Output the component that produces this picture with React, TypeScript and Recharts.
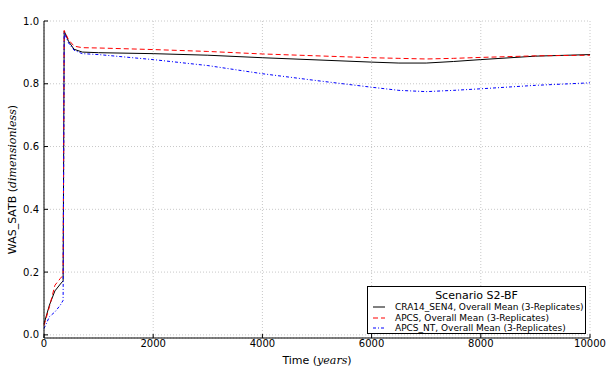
import { LineChart, Line, XAxis, YAxis, CartesianGrid, Legend } from "recharts";

const years = [0, 100, 200, 300, 350, 370, 450, 550, 700, 1000, 2000, 3000, 4000, 5000, 6000, 6500, 7000, 7500, 8000, 9000, 10000];
const cra14Sen4 = [0.035, 0.095, 0.14, 0.162, 0.172, 0.968, 0.935, 0.91, 0.901, 0.899, 0.896, 0.891, 0.883, 0.876, 0.869, 0.866, 0.866, 0.871, 0.877, 0.888, 0.893];
const apcs = [0.03, 0.09, 0.158, 0.18, 0.19, 0.97, 0.94, 0.92, 0.915, 0.914, 0.909, 0.903, 0.895, 0.889, 0.883, 0.881, 0.879, 0.881, 0.884, 0.889, 0.891];
const apcsNt = [0.02, 0.058, 0.073, 0.095, 0.11, 0.962, 0.93, 0.907, 0.896, 0.893, 0.877, 0.858, 0.832, 0.81, 0.789, 0.779, 0.775, 0.779, 0.784, 0.795, 0.803];

const xTicks = [0, 2000, 4000, 6000, 8000, 10000];
const yTicks = [0, 0.2, 0.4, 0.6, 0.8, 1.0];

const seriesNames = [
  "CRA14_SEN4, Overall Mean (3-Replicates)",
  "APCS, Overall Mean (3-Replicates)",
  "APCS_NT, Overall Mean (3-Replicates)",
];
const seriesColors = ["#000000", "#ff0000", "#0000ff"];
const seriesDash = ["", "5 3", "3 2 1 2"];

const rows = years.map((t, i) => ({
  t,
  cra14: cra14Sen4[i],
  apcs: apcs[i],
  apcsNt: apcsNt[i],
}));

const FONT = "DejaVu Sans, sans-serif";

function YTitle({ viewBox }: any) {
  const cx = 12;
  const cy = viewBox.y + viewBox.height / 2;
  return (
    <text
      x={cx}
      y={cy}
      transform={`rotate(-90 ${cx} ${cy})`}
      textAnchor="middle"
      dominantBaseline="central"
      fontSize={11}
      fontFamily={FONT}
      fill="#000"
    >
      WAS_SATB (
      <tspan fontFamily="DejaVu Serif" fontStyle="italic">dimensionless</tspan>)
    </text>
  );
}

function XTitle({ viewBox }: any) {
  const cx = viewBox.x + viewBox.width / 2;
  return (
    <text x={cx} y={360} textAnchor="middle" dominantBaseline="central" fontSize={11} fontFamily={FONT} fill="#000">
      Time (<tspan fontFamily="DejaVu Serif" fontStyle="italic">years</tspan>)
    </text>
  );
}

function Title({ viewBox }: any) {
  const cx = viewBox.x + viewBox.width / 2;
  return (
    <text x={cx} y={15} textAnchor="middle" fontSize={10.5} fontFamily={FONT} fill="#000">
      Brine Saturation in Waste Panel
    </text>
  );
}

function LegendBox() {
  return (
    <div
      style={{
        border: "1px solid #000",
        background: "#fff",
        fontFamily: FONT,
        color: "#000",
        boxSizing: "border-box",
        width: 219,
        height: 48,
        padding: "2px 0 0 4px",
        whiteSpace: "nowrap",
      }}
    >
      <div style={{ textAlign: "center", fontSize: 11, lineHeight: "13px", marginLeft: -4 }}>Scenario S2-BF</div>
      {seriesNames.map((name, i) => (
        <div key={name} style={{ display: "flex", alignItems: "center", fontSize: 9, lineHeight: "10.5px" }}>
          <svg width={20} height={8} style={{ marginRight: 3, flexShrink: 0 }}>
            <line x1={1} y1={4} x2={13} y2={4} stroke={seriesColors[i]} strokeWidth={1} strokeDasharray={seriesDash[i] || undefined} />
          </svg>
          <span>{name}</span>
        </div>
      ))}
    </div>
  );
}

export default function App() {
  return (
    <div style={{ position: "absolute", left: 0, top: 0, width: 607, height: 369, background: "#fff" }}>
      <LineChart width={607} height={369} data={rows} margin={{ top: 21, right: 17, bottom: 0, left: 0 }}>
        <CartesianGrid stroke="#c8c8c8" strokeDasharray="1 2" xAxisId="bottom" yAxisId="left" />
        <XAxis
          xAxisId="bottom"
          dataKey="t"
          type="number"
          domain={[0, 10000]}
          ticks={xTicks}
          height={31}
          tickSize={-4}
          tickMargin={6}
          stroke="#000"
          tick={{ fontSize: 10, fill: "#000", fontFamily: FONT }}
          label={<XTitle />}
        />
        <XAxis
          xAxisId="top"
          orientation="top"
          dataKey="t"
          type="number"
          domain={[0, 10000]}
          ticks={xTicks}
          height={0}
          tickSize={-4}
          tick={false}
          stroke="#000"
          label={<Title />}
        />
        <YAxis
          yAxisId="left"
          type="number"
          domain={[-0.01, 1.0]}
          ticks={yTicks}
          width={44}
          tickSize={-4}
          tickMargin={9}
          stroke="#000"
          tickFormatter={(v: number) => v.toFixed(1)}
          tick={{ fontSize: 10, fill: "#000", fontFamily: FONT }}
          label={<YTitle />}
        />
        <YAxis
          yAxisId="right"
          orientation="right"
          type="number"
          domain={[-0.01, 1.0]}
          ticks={yTicks}
          width={0}
          tickSize={-4}
          tick={false}
          stroke="#000"
        />
        <Line
          xAxisId="bottom"
          yAxisId="left"
          dataKey="cra14"
          stroke={seriesColors[0]}
          strokeWidth={1}
          dot={false}
          type="linear"
          isAnimationActive={false}
        />
        <Line
          xAxisId="bottom"
          yAxisId="left"
          dataKey="apcs"
          stroke={seriesColors[1]}
          strokeWidth={1}
          strokeDasharray={seriesDash[1]}
          dot={false}
          type="linear"
          isAnimationActive={false}
        />
        <Line
          xAxisId="bottom"
          yAxisId="left"
          dataKey="apcsNt"
          stroke={seriesColors[2]}
          strokeWidth={1}
          strokeDasharray={seriesDash[2]}
          dot={false}
          type="linear"
          isAnimationActive={false}
        />
        <Legend
          layout="horizontal"
          verticalAlign="middle"
          align="center"
          wrapperStyle={{ left: 367, top: 286, width: 219, height: 48 }}
          content={() => <LegendBox />}
        />
      </LineChart>
    </div>
  );
}
